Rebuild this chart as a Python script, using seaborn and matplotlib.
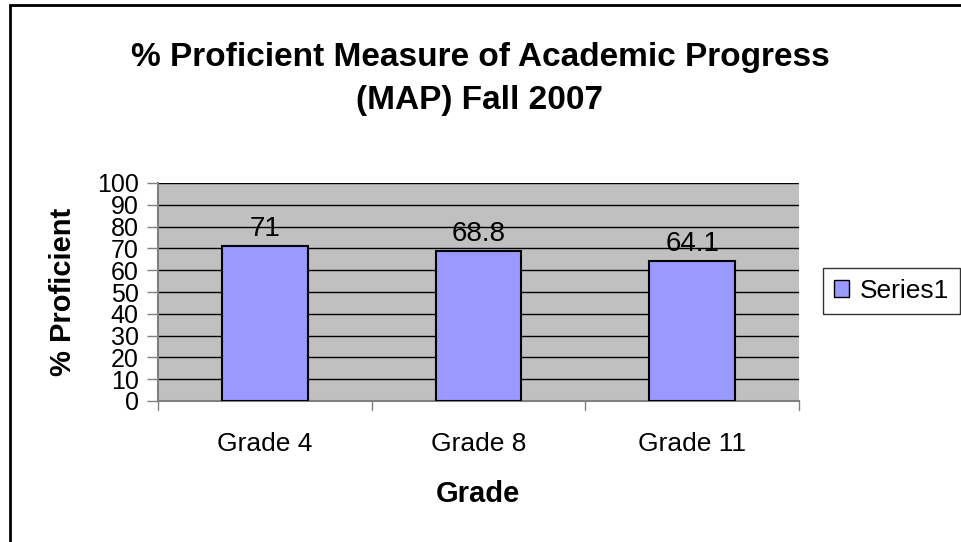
import matplotlib.pyplot as plt
import seaborn as sns
from matplotlib.patches import Patch, Rectangle

grades = ['Grade 4', 'Grade 8', 'Grade 11']
proficient = [71, 68.8, 64.1]
value_labels = ['71', '68.8', '64.1']

sns.set_style('white')
plt.rcParams['font.family'] = ['Liberation Sans', 'DejaVu Sans']
for k in ['text.color', 'axes.labelcolor', 'xtick.color', 'ytick.color']:
    plt.rcParams[k] = 'black'

W, H = 962, 542
fig = plt.figure(figsize=(W / 100, H / 100), dpi=100)

# outer chart border (only left/top visible in the original crop)
fig.patches.append(Rectangle((10 / W, -0.05), 1.2, 1.05 - 5 / H, transform=fig.transFigure,
                             fill=False, edgecolor='black', linewidth=2))

ax = fig.add_axes([158 / W, (H - 401) / H, (799 - 158) / W, (401 - 183) / H])
ax.set_facecolor('#C0C0C0')

sns.barplot(x=grades, y=proficient, color='#9999FF', saturation=1, edgecolor='black',
            linewidth=1.5, width=0.4, ax=ax, zorder=3)

ax.set_ylim(0, 100)
ax.set_xlim(-0.5, 2.5)
ax.set_yticks(range(0, 101, 10))
ax.yaxis.grid(True, color='black', linewidth=1)
ax.set_axisbelow(True)
for s in ['top', 'right']:
    ax.spines[s].set_visible(False)
for s in ['left', 'bottom']:
    ax.spines[s].set_color('#808080')
    ax.spines[s].set_linewidth(1.5)

ax.tick_params(axis='y', labelsize=18, length=8, width=1, color='#808080', left=True, pad=6)
ax.tick_params(axis='x', labelsize=19, length=0, pad=22)
# tick marks between categories
for xb in [-0.5, 0.5, 1.5, 2.5]:
    ax.plot([xb, xb], [0, -4], color='#808080', linewidth=1, clip_on=False)

ax.bar_label(ax.containers[0], labels=value_labels, padding=3, fontsize=20)

ax.set_xlabel('Grade', fontsize=21, fontweight='bold')
ax.xaxis.set_label_coords((478 - 158) / 641, (401 - 494) / 218)
ax.xaxis.label.set_va('center')
ax.set_ylabel('% Proficient', fontsize=21, fontweight='bold')
ax.yaxis.set_label_coords((63 - 158) / 641, (401 - 292) / 218)
ax.yaxis.label.set_va('center')

fig.text(480 / W, 1 - 79 / H, '% Proficient Measure of Academic Progress\n(MAP) Fall 2007',
         ha='center', va='center', fontsize=24, fontweight='bold', linespacing=1.5)

ax.legend(handles=[Patch(facecolor='#9999FF', edgecolor='black', label='Series1')],
          loc='center left', bbox_to_anchor=(823 / W, 1 - 291 / H), bbox_transform=fig.transFigure,
          fontsize=19, frameon=True, fancybox=False, edgecolor='black', handlelength=0.6,
          handleheight=0.6, handletextpad=0.4, borderpad=0.4, borderaxespad=0)

fig.savefig('out.png', dpi=100)
